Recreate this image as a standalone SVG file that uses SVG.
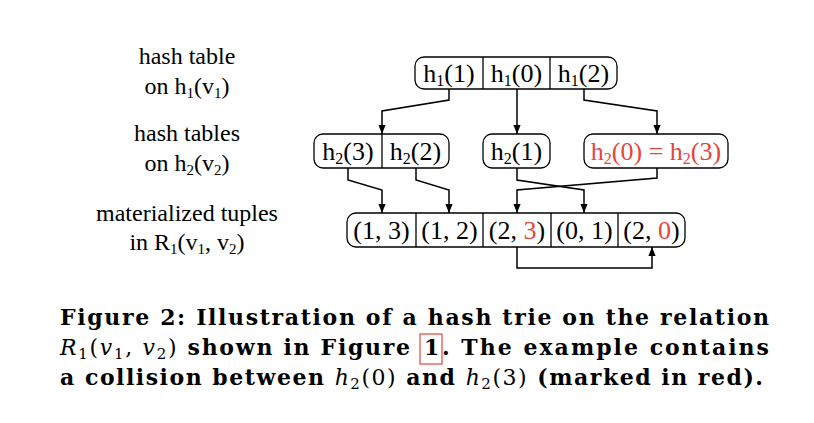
<svg xmlns="http://www.w3.org/2000/svg" width="814" height="423" viewBox="0 0 814 423">
<defs>
<marker id="ah" viewBox="0 0 10 10" refX="10" refY="5" markerWidth="9" markerHeight="9" markerUnits="userSpaceOnUse" orient="auto">
<path d="M0,1 L10,5 L0,9 z" fill="#000"/>
</marker>
<style>
.box{fill:#fff;stroke:#000;stroke-width:1.3}
.div{stroke:#000;stroke-width:1.3}
.t{font-family:"Liberation Serif","Times New Roman",serif;font-size:26px;fill:#000;text-anchor:middle}
.lab{font-family:"Liberation Serif","Times New Roman",serif;font-size:24px;fill:#000;text-anchor:middle}
.red{fill:#e8443c}
.c{fill:none;stroke:#000;stroke-width:1.5;marker-end:url(#ah)}
.cap{font-family:"DejaVu Serif","Liberation Serif",serif;font-weight:bold;font-size:22px;fill:#000}
.m{font-style:italic;font-weight:normal}
.n{font-weight:normal}
</style>
</defs>
<rect width="814" height="423" fill="#fff"/>

<g id="labels">
<text class="lab" x="187" y="64">hash table</text>
<text class="lab" x="187" y="94">on h<tspan font-size="15" dy="4">1</tspan><tspan dy="-4">(v</tspan><tspan font-size="15" dy="4">1</tspan><tspan dy="-4">)</tspan></text>
<text class="lab" x="187" y="141">hash tables</text>
<text class="lab" x="187" y="171">on h<tspan font-size="15" dy="4">2</tspan><tspan dy="-4">(v</tspan><tspan font-size="15" dy="4">2</tspan><tspan dy="-4">)</tspan></text>
<text class="lab" x="187" y="221">materialized tuples</text>
<text class="lab" x="187" y="250">in R<tspan font-size="15" dy="4">1</tspan><tspan dy="-4">(v</tspan><tspan font-size="15" dy="4">1</tspan><tspan dy="-4">, v</tspan><tspan font-size="15" dy="4">2</tspan><tspan dy="-4">)</tspan></text>
</g>

<g id="h1table">
<rect class="box" x="415" y="57" width="202" height="32" rx="9"/>
<line class="div" x1="483" y1="57" x2="483" y2="89"/>
<line class="div" x1="550" y1="57" x2="550" y2="89"/>
<text class="t" x="449" y="82">h<tspan font-size="16" dy="4">1</tspan><tspan dy="-4">(1)</tspan></text>
<text class="t" x="516.5" y="82">h<tspan font-size="16" dy="4">1</tspan><tspan dy="-4">(0)</tspan></text>
<text class="t" x="583.5" y="82">h<tspan font-size="16" dy="4">1</tspan><tspan dy="-4">(2)</tspan></text>
</g>

<g id="h2tableA">
<rect class="box" x="314" y="134" width="135" height="34" rx="9"/>
<line class="div" x1="382" y1="134" x2="382" y2="168"/>
<text class="t" x="348" y="160">h<tspan font-size="16" dy="4">2</tspan><tspan dy="-4">(3)</tspan></text>
<text class="t" x="415.5" y="160">h<tspan font-size="16" dy="4">2</tspan><tspan dy="-4">(2)</tspan></text>
</g>

<g id="h2tableB">
<rect class="box" x="483" y="134" width="67" height="34" rx="9"/>
<text class="t" x="516.5" y="160">h<tspan font-size="16" dy="4">2</tspan><tspan dy="-4">(1)</tspan></text>
</g>

<g id="h2tableC">
<rect class="box" x="584" y="134" width="144" height="34" rx="9"/>
<text class="t red" x="656" y="160">h<tspan font-size="16" dy="4">2</tspan><tspan dy="-4">(0) = h</tspan><tspan font-size="16" dy="4">2</tspan><tspan dy="-4">(3)</tspan></text>
</g>

<g id="tuples">
<rect class="box" x="347" y="213" width="338" height="34" rx="9"/>
<line class="div" x1="416" y1="213" x2="416" y2="247"/>
<line class="div" x1="483" y1="213" x2="483" y2="247"/>
<line class="div" x1="551" y1="213" x2="551" y2="247"/>
<line class="div" x1="618" y1="213" x2="618" y2="247"/>
<text class="t" x="381.5" y="239">(1, 3)</text>
<text class="t" x="449.5" y="239">(1, 2)</text>
<text class="t" x="517" y="239">(2, <tspan class="red">3</tspan>)</text>
<text class="t" x="584.5" y="239">(0, 1)</text>
<text class="t" x="651.5" y="239">(2, <tspan class="red">0</tspan>)</text>
</g>

<g id="connectors">
<polyline class="c" points="449,89 449,100 382,111 382,134"/>
<polyline class="c" points="517,89 517,134"/>
<polyline class="c" points="584,89 584,100 657,111 657,134"/>
<polyline class="c" points="348,168 348,180 382,190 382,213"/>
<polyline class="c" points="416,168 416,180 449,190 449,213"/>
<polyline class="c" points="517,168 517,180 584,190 584,213"/>
<polyline class="c" points="657,168 657,178 517,190 517,213"/>
<polyline class="c" points="517,247 517,268 652,268 652,247"/>
</g>

<g id="caption">
<text class="cap" x="60" y="325" textLength="709" lengthAdjust="spacing">Figure 2: Illustration of a hash trie on the relation</text>
<text class="cap" x="60" y="355" textLength="350" lengthAdjust="spacing"><tspan class="m">R</tspan><tspan class="n" font-size="15" dy="4">1</tspan><tspan class="n" dy="-4">(</tspan><tspan class="m">v</tspan><tspan class="n" font-size="15" dy="4">1</tspan><tspan class="n" dy="-4">, </tspan><tspan class="m">v</tspan><tspan class="n" font-size="15" dy="4">2</tspan><tspan class="n" dy="-4">)</tspan> shown in Figure</text>
<text class="cap" x="424" y="355">1</text>
<text class="cap" x="442" y="355" textLength="327" lengthAdjust="spacing">.  The example contains</text>
<text class="cap" x="60" y="385" textLength="703" lengthAdjust="spacing">a collision between <tspan class="m">h</tspan><tspan class="n" font-size="15" dy="4">2</tspan><tspan class="n" dy="-4">(0)</tspan> and <tspan class="m">h</tspan><tspan class="n" font-size="15" dy="4">2</tspan><tspan class="n" dy="-4">(3)</tspan> (marked in red).</text>
<rect x="420" y="334" width="22" height="30" fill="none" stroke="#e8443c" stroke-width="1.2"/>
</g>
</svg>
